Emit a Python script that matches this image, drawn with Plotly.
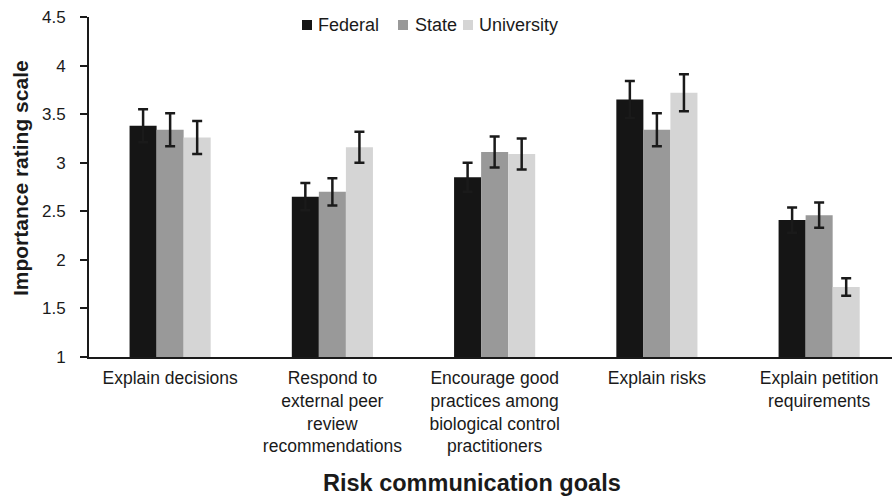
import plotly.graph_objects as go

# Risk communication goals rated by three agency types
categories = [
    "Explain decisions",
    "Respond to<br>external peer<br>review<br>recommendations",
    "Encourage good<br>practices among<br>biological control<br>practitioners",
    "Explain risks",
    "Explain petition<br>requirements",
]

federal = [3.38, 2.65, 2.85, 3.65, 2.41]
federal_err = [0.17, 0.14, 0.15, 0.19, 0.13]

state = [3.34, 2.70, 3.11, 3.34, 2.46]
state_err = [0.17, 0.14, 0.16, 0.17, 0.13]

university = [3.26, 3.16, 3.09, 3.72, 1.72]
university_err = [0.17, 0.16, 0.16, 0.19, 0.09]

y_ticks = [1, 1.5, 2, 2.5, 3, 3.5, 4, 4.5]

FONT = "Liberation Sans, Arial, sans-serif"
INK = "#1a1a1a"

W, H = 892, 497
M_L, M_R, M_T, M_B = 89, 0, 17, 140
PLOT_W = W - M_L - M_R
PLOT_H = H - M_T - M_B

series = [
    ("Federal", federal, federal_err, "#151515"),
    ("State", state, state_err, "#999999"),
    ("University", university, university_err, "#d5d5d5"),
]

fig = go.Figure()
for name, vals, errs, color in series:
    fig.add_trace(go.Bar(
        name=name,
        x=categories,
        y=vals,
        marker=dict(color=color, line=dict(width=0)),
        error_y=dict(type="data", array=errs, visible=True,
                     color=INK, thickness=2.5, width=5),
        showlegend=False,
    ))


def px_x(px):
    return (px - M_L) / PLOT_W


def px_y(py):
    return (M_T + PLOT_H - py) / PLOT_H


# Compact key across the top: swatch left edges (px) and label starts (px)
swatch_left = [302, 398, 463]
label_left = [316, 413, 477]
key_mid = 25
swatch = 10

shapes = []
key = []
for (name, _, _, color), sx, tx in zip(series, swatch_left, label_left):
    shapes.append(dict(
        type="rect", xref="paper", yref="paper",
        x0=px_x(sx), x1=px_x(sx + swatch),
        y0=px_y(key_mid + swatch / 2), y1=px_y(key_mid - swatch / 2),
        fillcolor=color, line=dict(width=0),
    ))
    key.append(dict(
        text=name, xref="paper", yref="paper",
        x=px_x(tx), y=px_y(key_mid),
        xanchor="left", yanchor="middle", showarrow=False,
        font=dict(size=18, color=INK),
    ))

fig.update_layout(
    width=W,
    height=H,
    margin=dict(l=M_L, r=M_R, t=M_T, b=M_B),
    paper_bgcolor="white",
    plot_bgcolor="white",
    barmode="group",
    bargap=0.5,
    bargroupgap=0,
    font=dict(family=FONT, size=18, color=INK),
    showlegend=False,
    shapes=shapes,
    xaxis=dict(
        range=[-0.5, 4.449],
        showline=True, linecolor=INK, linewidth=2,
        ticks="", showgrid=False,
        tickfont=dict(size=17.5, color=INK),
        ticklabelstandoff=4,
    ),
    yaxis=dict(
        range=[1, 4.5],
        tickvals=y_ticks,
        ticktext=[f"{v:g}" for v in y_ticks],
        showline=True, linecolor=INK, linewidth=2,
        ticks="outside", ticklen=7, tickwidth=2, tickcolor=INK,
        showgrid=False, zeroline=False,
        tickfont=dict(size=17, color=INK),
        ticklabelstandoff=11,
    ),
    annotations=key + [
        dict(text="<b>Risk communication goals</b>", xref="paper", yref="paper",
             x=0.477, y=-0.37, xanchor="center", yanchor="middle",
             showarrow=False, font=dict(size=23.5, color=INK)),
        dict(text="<b>Importance rating scale</b>", xref="paper", yref="paper",
             x=-0.086, y=0.526, xanchor="center", yanchor="middle",
             textangle=-90, showarrow=False, font=dict(size=21, color=INK)),
    ],
)

fig.write_html("out.html")
